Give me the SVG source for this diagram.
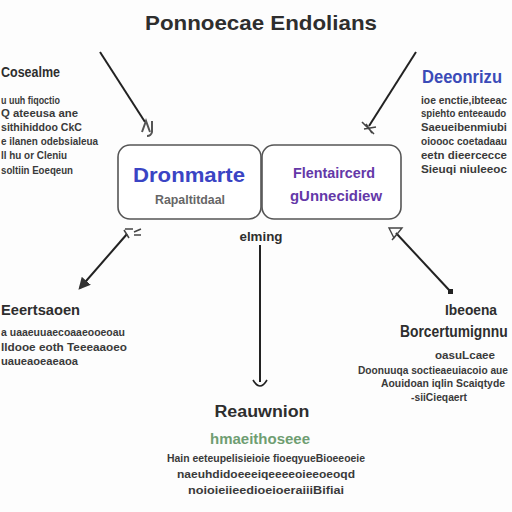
<svg xmlns="http://www.w3.org/2000/svg" width="512" height="512" viewBox="0 0 512 512">
<defs>
<style>
.t{font-family:"Liberation Sans","DejaVu Sans",sans-serif;font-weight:bold;fill:#2e2e2e}
.h{font-size:14px}
.b{font-size:10.5px;fill:#3a3a3a}
.box{fill:#fff;stroke:#555;stroke-width:1.6}
.ln{stroke:#222;stroke-width:2;fill:none}
</style>
<marker id="tri" viewBox="0 0 10 10" refX="8" refY="5" markerWidth="6" markerHeight="6" orient="auto"><path d="M0,0L10,5L0,10z" fill="#333"/></marker>
</defs>
<rect width="512" height="512" fill="#fdfdfd"/>
<text class="t" x="261" y="30" font-size="21" text-anchor="middle" textLength="232" lengthAdjust="spacingAndGlyphs">Ponnoecae Endolians</text>

<g id="n-left-top">
<text class="t h" x="1" y="77" textLength="59" lengthAdjust="spacingAndGlyphs">Cosealme</text>
<text class="t b" x="1" y="104" textLength="59" lengthAdjust="spacingAndGlyphs">u uuh fiqoctio</text>
<text class="t b" x="1" y="117" textLength="77" lengthAdjust="spacingAndGlyphs">Q ateeusa ane</text>
<text class="t b" x="1" y="131" textLength="81" lengthAdjust="spacingAndGlyphs">sithihiddoo CkC</text>
<text class="t b" x="1" y="145" textLength="97" lengthAdjust="spacingAndGlyphs">e ilanen odebsialeua</text>
<text class="t b" x="1" y="159" textLength="66" lengthAdjust="spacingAndGlyphs">ll hu or Cleniu</text>
<text class="t b" x="1" y="174" textLength="72" lengthAdjust="spacingAndGlyphs">soltiin Eoeqeun</text>
</g>

<g id="n-right-top">
<text class="t" x="422" y="83" font-size="18" style="fill:#3b4bb8" textLength="80" lengthAdjust="spacingAndGlyphs">Deeonrizu</text>
<text class="t b" x="421" y="104" textLength="86" lengthAdjust="spacingAndGlyphs">ioe enctie,ibteeac</text>
<text class="t b" transform="translate(421,117) scale(0.92,1)">spiehto enteeaudo</text>
<text class="t b" x="421" y="131" textLength="86" lengthAdjust="spacingAndGlyphs">Saeueibenmiubi</text>
<text class="t b" x="421" y="145" textLength="86" lengthAdjust="spacingAndGlyphs">oioooc coetadaau</text>
<text class="t b" x="421" y="159" textLength="86" lengthAdjust="spacingAndGlyphs">eetn dieercecce</text>
<text class="t b" x="421" y="173" textLength="86" lengthAdjust="spacingAndGlyphs">Sieuqi niuleeoc</text>
</g>

<g id="n-box1">
<rect class="box" x="118" y="145" width="143" height="74" rx="12"/>
<text class="t" x="189" y="182" font-size="20" style="fill:#3a44c4" text-anchor="middle" textLength="112" lengthAdjust="spacingAndGlyphs">Dronmarte</text>
<text class="t" x="190" y="204" font-size="12" style="fill:#666" text-anchor="middle" textLength="70" lengthAdjust="spacingAndGlyphs">Rapaltitdaal</text>
</g>

<g id="n-box2">
<rect class="box" x="262" y="145" width="139" height="74" rx="12"/>
<text class="t" x="334" y="178" font-size="14" style="fill:#6438a8" text-anchor="middle" textLength="82" lengthAdjust="spacingAndGlyphs">Flentaircerd</text>
<text class="t" x="336" y="201" font-size="14" style="fill:#6438a8" text-anchor="middle" textLength="92" lengthAdjust="spacingAndGlyphs">gUnnecidiew</text>
</g>

<g id="n-center-label">
<text class="t" x="261" y="241" font-size="13" text-anchor="middle" textLength="43" lengthAdjust="spacingAndGlyphs">elming</text>
</g>

<g id="n-left-bottom">
<text class="t h" x="1" y="315" textLength="79" lengthAdjust="spacingAndGlyphs">Eeertsaoen</text>
<text class="t b" x="1" y="336" textLength="124" lengthAdjust="spacingAndGlyphs">a uaaeuuaecoaaeooeoau</text>
<text class="t b" x="1" y="351" textLength="126" lengthAdjust="spacingAndGlyphs">lldooe eoth Teeeaaoeo</text>
<text class="t b" x="1" y="365" textLength="77" lengthAdjust="spacingAndGlyphs">uaueaoeaeaoa</text>
</g>

<g id="n-right-bottom">
<text class="t h" x="471" y="315" text-anchor="middle" textLength="52" lengthAdjust="spacingAndGlyphs">Ibeoena</text>
<text class="t" font-size="17" transform="translate(400,337) scale(0.815,1)">Borcertumignnu</text>
<text class="t b" x="465" y="359" text-anchor="middle" textLength="60" lengthAdjust="spacingAndGlyphs">oasuLcaee</text>
<text class="t b" x="358" y="374" textLength="150" lengthAdjust="spacingAndGlyphs">Doonuuqa soctieaeuiacoio aue</text>
<text class="t b" x="381" y="387" textLength="124" lengthAdjust="spacingAndGlyphs">Aouidoan iqlin Scaiqtyde</text>
<text class="t b" x="439" y="401" text-anchor="middle" textLength="56" lengthAdjust="spacingAndGlyphs">-siiCieqaert</text>
</g>

<g id="n-bottom">
<text class="t" x="262" y="417" font-size="16" text-anchor="middle" textLength="95" lengthAdjust="spacingAndGlyphs">Reauwnion</text>
<text class="t" x="260" y="444" font-size="15" style="fill:#6f9e72" text-anchor="middle" textLength="100" lengthAdjust="spacingAndGlyphs">hmaeithoseee</text>
<text class="t b" x="266" y="462" text-anchor="middle" textLength="198" lengthAdjust="spacingAndGlyphs">Hain eeteupelisieioie fioeqyueBioeeoeie</text>
<text class="t b" x="266" y="478" text-anchor="middle" textLength="178" lengthAdjust="spacingAndGlyphs">naeuhdidoeeeiqeeeeoieeoeoqd</text>
<text class="t b" x="266" y="494" text-anchor="middle" textLength="156" lengthAdjust="spacingAndGlyphs">noioieiieedioeioeraiiiBifiai</text>
</g>

<g id="connectors">
<path class="ln" d="M100,52 L145,122"/>
<path d="M142,132 L146,121 L150,132 M152,121 L152,132 Q151,136 147,136" stroke="#555" stroke-width="2" fill="none"/>
<path class="ln" d="M416,52 L369,126"/>
<path d="M362,122 L374,134 M364,129 L376,127 M366,124 L372,133" stroke="#444" stroke-width="1.6" fill="none"/>
<path class="ln" d="M127,234 L80,288" marker-end="url(#tri)"/>
<path d="M125,229 L133,229 M124,230 L129,238 M134,232 L141,229 M134,235 L141,235" stroke="#444" stroke-width="1.5" fill="none"/>
<path class="ln" d="M396,233 L450,291"/>
<rect x="448" y="289" width="5" height="5" fill="#222"/>
<path d="M389,228 L402,228 L394,238 Z M392,240 L397,234" stroke="#444" stroke-width="1.4" fill="none"/>
<path class="ln" d="M260,245 L260,382" stroke-width="1.6"/>
<path d="M253,380 Q260,392 267,380" stroke="#222" stroke-width="1.6" fill="none"/>
</g>
</svg>
